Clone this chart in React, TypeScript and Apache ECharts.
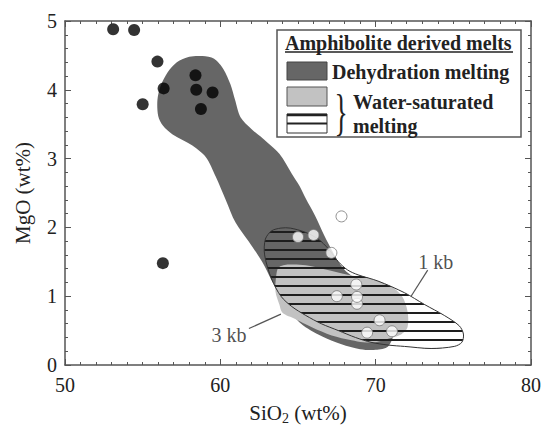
import React, { useEffect, useRef } from 'react';
import * as echarts from 'echarts';

// ---------- data ----------
const blackSiO2 = [53.1, 54.45, 55.95, 56.35, 55.0, 58.4, 58.45, 59.5, 58.75, 56.3];
const blackMgO = [4.88, 4.87, 4.41, 4.02, 3.79, 4.21, 4.0, 3.96, 3.72, 1.48];

const whiteSiO2 = [67.8, 65.0, 66.0, 67.15, 68.75, 67.5, 68.8, 68.8, 70.25, 69.45, 71.05];
const whiteMgO = [2.16, 1.86, 1.89, 1.63, 1.17, 1.0, 0.89, 0.99, 0.65, 0.47, 0.49];

// Dehydration melting field (SiO2, MgO)
const dehydrationField: number[][] = [
  [58.85, 4.49], [59.6, 4.45], [60.2, 4.3], [60.65, 4.08], [60.95, 3.85], [61.3, 3.6],
  [62.0, 3.43], [62.7, 3.3], [63.8, 3.07], [64.6, 2.78], [65.1, 2.6], [65.5, 2.42],
  [66.1, 2.17], [66.7, 1.88], [67.2, 1.66], [67.6, 1.5], [68.1, 1.36], [69.6, 1.12],
  [70.9, 0.85], [71.2, 0.5], [70.8, 0.27], [70.0, 0.22], [69.0, 0.23], [67.8, 0.3],
  [66.5, 0.42], [65.2, 0.6], [64.2, 0.87], [63.33, 1.22], [62.69, 1.5], [61.84, 1.79],
  [60.98, 2.07], [60.35, 2.4], [59.7, 2.74], [59.07, 3.02], [58.2, 3.19], [56.93, 3.35],
  [56.3, 3.48], [56.0, 3.62], [55.95, 3.85], [56.15, 4.05], [56.6, 4.25], [57.2, 4.4],
  [58.0, 4.48],
];

// Water-saturated melting, 3 kb (light grey)
const waterSat3kbField: number[][] = [
  [63.76, 1.42], [64.4, 1.46], [65.5, 1.45], [66.7, 1.39], [68.2, 1.31], [69.3, 1.27],
  [70.15, 1.22], [71.0, 1.14], [71.7, 1.0], [72.05, 0.78], [72.05, 0.55], [71.6, 0.44],
  [70.8, 0.38], [70.0, 0.33], [69.2, 0.33], [68.45, 0.36], [67.17, 0.43], [65.89, 0.55],
  [64.82, 0.67], [64.0, 0.76], [63.8, 0.88], [63.55, 1.07], [63.6, 1.3],
];

// Water-saturated melting, 1 kb (hatched)
const waterSat1kbField: number[][] = [
  [62.9, 1.83], [63.3, 1.95], [63.9, 1.99], [64.5, 1.99], [65.46, 1.93], [66.3, 1.83],
  [66.95, 1.69], [67.6, 1.5], [68.2, 1.38], [68.87, 1.31], [70.15, 1.22], [71.86, 1.05],
  [73.14, 0.88], [74.42, 0.72], [75.38, 0.57], [75.65, 0.45], [75.55, 0.33], [75.06, 0.27],
  [73.57, 0.24], [71.86, 0.27], [70.8, 0.29], [69.7, 0.33], [68.7, 0.4], [67.6, 0.5],
  [66.5, 0.6], [65.5, 0.72], [64.6, 0.85], [63.9, 1.0], [63.3, 1.25], [62.85, 1.6],
];

const kbLabels = ['1 kb', '3 kb'];
const kbLabelSiO2 = [73.87, 60.56];
const kbLabelMgO = [1.49, 0.43];
const leader1kb: number[][] = [[73.35, 1.38], [72.28, 1.0]];
const leader3kb: number[][] = [[61.84, 0.53], [63.9, 0.74]];

const xMin = 50, xMax = 80, xStep = 10;
const yMin = 0, yMax = 5, yStep = 1;

const SERIF = "'Liberation Serif', 'Times New Roman', serif";
const AXIS_COLOR = '#555555';
const DARK = '#666666';
const LIGHT = '#c2c2c2';

function makeStripePattern(): string {
  const c = document.createElement('canvas');
  c.width = 8;
  c.height = 9;
  const ctx = c.getContext('2d');
  if (ctx) {
    ctx.clearRect(0, 0, 8, 9);
    ctx.fillStyle = '#1e1e1e';
    ctx.fillRect(0, 6, 8, 2);
  }
  return c.toDataURL();
}

export default function App() {
  const ref = useRef<HTMLDivElement>(null);

  useEffect(() => {
    if (!ref.current) return;
    const chart = echarts.init(ref.current, null, { renderer: 'svg' });
    const stripe = makeStripePattern();

    const polygonSeries = (name: string, pts: number[][], style: any, z: number) => ({
      type: 'custom',
      name,
      coordinateSystem: 'cartesian2d',
      xAxisIndex: 0,
      yAxisIndex: 0,
      data: pts,
      z,
      silent: true,
      clip: true,
      renderItem: (params: any, api: any) => {
        if (params.dataIndex !== 0) return null;
        return {
          type: 'polygon',
          shape: { points: pts.map((p) => api.coord(p)), smooth: 0.3 },
          style,
        };
      },
    });

    const axisBase = {
      type: 'value',
      axisLine: { show: true, onZero: false, lineStyle: { color: AXIS_COLOR, width: 1.5 } },
      axisTick: { show: true, inside: true, length: 6, lineStyle: { color: AXIS_COLOR, width: 1 } },
      minorTick: { show: true, length: 3, lineStyle: { color: AXIS_COLOR, width: 1 } },
      splitLine: { show: false },
      minorSplitLine: { show: false },
    };

    const labelStyle = { fontSize: 20, fontFamily: SERIF, color: '#222' };

    const option: any = {
      animation: false,
      backgroundColor: '#fff',
      grid: { left: 65, right: 10, top: 21, bottom: 58 },
      xAxis: [
        {
          ...axisBase,
          min: xMin, max: xMax, interval: xStep, position: 'bottom',
          minorTick: { ...axisBase.minorTick, splitNumber: 10 },
          axisLabel: { ...labelStyle, margin: 10 },
          name: 'SiO{sub|2} (wt%)',
          nameLocation: 'middle',
          nameGap: 36,
          nameTextStyle: {
            fontSize: 21, fontFamily: SERIF, color: '#222', lineHeight: 24,
            rich: { sub: { fontSize: 14, fontFamily: SERIF, color: '#222', verticalAlign: 'bottom', lineHeight: 14 } },
          },
        },
        {
          ...axisBase,
          min: xMin, max: xMax, interval: xStep, position: 'top',
          minorTick: { ...axisBase.minorTick, splitNumber: 10 },
          axisLabel: { show: false },
        },
      ],
      yAxis: [
        {
          ...axisBase,
          min: yMin, max: yMax, interval: yStep, position: 'left',
          minorTick: { ...axisBase.minorTick, splitNumber: 5 },
          axisLabel: { ...labelStyle, margin: 8 },
          name: 'MgO (wt%)',
          nameLocation: 'middle',
          nameRotate: 90,
          nameGap: 32,
          nameTextStyle: { fontSize: 21, fontFamily: SERIF, color: '#222' },
        },
        {
          ...axisBase,
          min: yMin, max: yMax, interval: yStep, position: 'right',
          minorTick: { ...axisBase.minorTick, splitNumber: 5 },
          axisLabel: { show: false },
        },
      ],
      series: [
        polygonSeries('Dehydration melting', dehydrationField, { fill: DARK, stroke: 'none' }, 1),
        polygonSeries('Water-saturated 3 kb', waterSat3kbField, { fill: LIGHT, stroke: 'none' }, 2),
        polygonSeries(
          'Water-saturated 1 kb',
          waterSat1kbField,
          {
            fill: { image: stripe, repeat: 'repeat', imageWidth: 8, imageHeight: 9 },
            stroke: '#333',
            lineWidth: 1,
          },
          3,
        ),
        {
          type: 'line', data: leader1kb, symbol: 'none', z: 4, silent: true,
          lineStyle: { color: '#555', width: 1.2 },
        },
        {
          type: 'line', data: leader3kb, symbol: 'none', z: 4, silent: true,
          lineStyle: { color: '#555', width: 1.2 },
        },
        {
          type: 'scatter', z: 5, silent: true,
          symbol: 'circle', symbolSize: 1,
          itemStyle: { color: 'rgba(0,0,0,0)' },
          data: kbLabels.map((t, i) => ({ name: t, value: [kbLabelSiO2[i], kbLabelMgO[i]] })),
          label: { show: true, position: 'inside', formatter: '{b}', ...labelStyle },
        },
        {
          type: 'scatter', z: 6, silent: true,
          symbol: 'circle', symbolSize: 12,
          itemStyle: { color: '#000' },
          data: blackSiO2.map((x, i) => [x, blackMgO[i]]),
        },
        {
          type: 'scatter', z: 6, silent: true,
          symbol: 'circle', symbolSize: 11,
          itemStyle: { color: '#fff', borderColor: '#777', borderWidth: 1 },
          data: whiteSiO2.map((x, i) => [x, whiteMgO[i]]),
        },
      ],
      graphic: [
        {
          type: 'rect', z: 100,
          shape: { x: 277, y: 30, width: 244, height: 107 },
          style: { fill: '#fff', stroke: '#555', lineWidth: 1.5 },
        },
        {
          type: 'text', z: 101, x: 285, y: 43,
          style: {
            text: 'Amphibolite derived melts', font: `bold 20px ${SERIF}`, fill: '#222',
            textAlign: 'left', textVerticalAlign: 'middle', align: 'left', verticalAlign: 'middle',
          },
        },
        {
          type: 'line', z: 101,
          shape: { x1: 285, y1: 52, x2: 513, y2: 52 },
          style: { stroke: '#222', lineWidth: 1.5 },
        },
        {
          type: 'rect', z: 101,
          shape: { x: 287, y: 62, width: 40, height: 18 },
          style: { fill: DARK, stroke: '#444', lineWidth: 1 },
        },
        {
          type: 'text', z: 101, x: 332, y: 72,
          style: {
            text: 'Dehydration melting', font: `bold 20px ${SERIF}`, fill: '#222',
            textAlign: 'left', textVerticalAlign: 'middle', align: 'left', verticalAlign: 'middle',
          },
        },
        {
          type: 'rect', z: 101,
          shape: { x: 287, y: 87, width: 40, height: 19 },
          style: { fill: LIGHT, stroke: '#555', lineWidth: 1 },
        },
        {
          type: 'rect', z: 101,
          shape: { x: 287, y: 114, width: 40, height: 19 },
          style: { fill: '#fff', stroke: '#333', lineWidth: 1 },
        },
        {
          type: 'line', z: 102,
          shape: { x1: 287, y1: 115, x2: 327, y2: 115 },
          style: { stroke: '#222', lineWidth: 2.5 },
        },
        {
          type: 'line', z: 102,
          shape: { x1: 287, y1: 123.5, x2: 327, y2: 123.5 },
          style: { stroke: '#222', lineWidth: 2 },
        },
        {
          type: 'text', z: 101, x: 341, y: 112, scaleX: 0.55,
          style: {
            text: '}', font: `50px ${SERIF}`, fill: '#222',
            textAlign: 'center', textVerticalAlign: 'middle', align: 'center', verticalAlign: 'middle',
          },
        },
        {
          type: 'text', z: 101, x: 353, y: 102,
          style: {
            text: 'Water-saturated', font: `bold 20px ${SERIF}`, fill: '#222',
            textAlign: 'left', textVerticalAlign: 'middle', align: 'left', verticalAlign: 'middle',
          },
        },
        {
          type: 'text', z: 101, x: 353, y: 126,
          style: {
            text: 'melting', font: `bold 20px ${SERIF}`, fill: '#222',
            textAlign: 'left', textVerticalAlign: 'middle', align: 'left', verticalAlign: 'middle',
          },
        },
      ],
    };

    chart.setOption(option);
    return () => chart.dispose();
  }, []);

  return (
    <div
      ref={ref}
      style={{ position: 'fixed', left: 0, top: 0, width: 544, height: 430, background: '#fff' }}
    />
  );
}
